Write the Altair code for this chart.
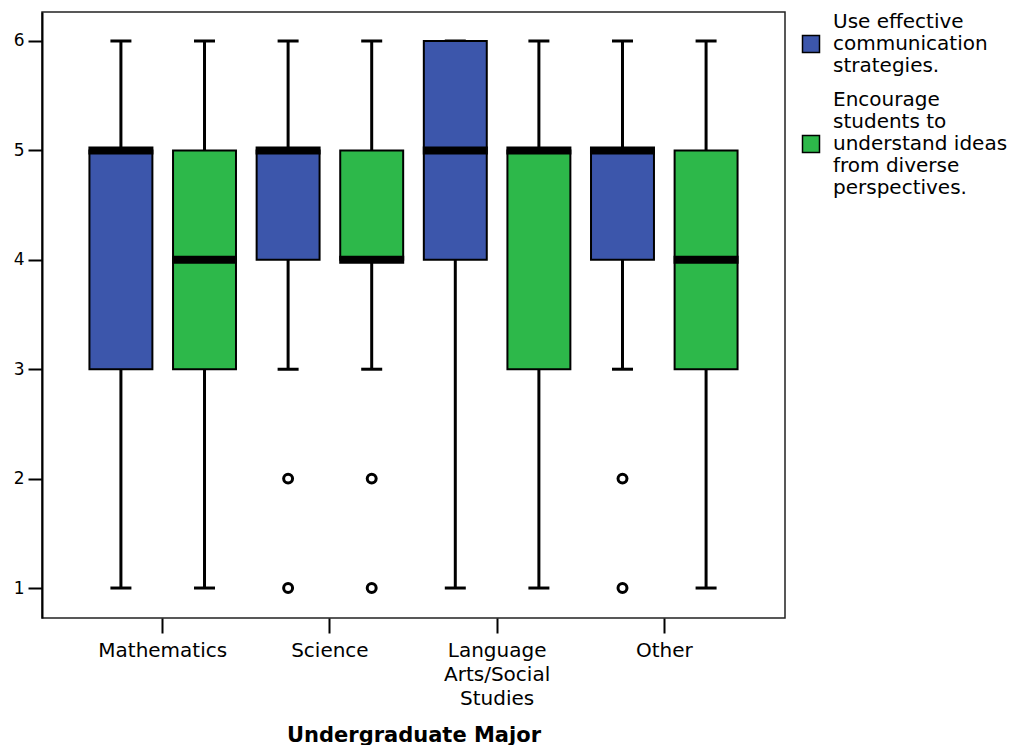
import altair as alt
import pandas as pd

categories = ["Mathematics", "Science", "Language Arts/Social Studies", "Other"]
category_lines = {"Language Arts/Social Studies": ["Language", "Arts/Social", "Studies"]}
series_names = [
    "Use effective communication strategies.",
    "Encourage students to understand ideas from diverse perspectives.",
]
series_lines = [
    ["Use effective", "communication", "strategies."],
    ["Encourage", "students to", "understand ideas", "from diverse", "perspectives."],
]
colors = ["#3c56ab", "#2db84a"]
outline_colors = ["black", "black"]

box_category = [c for c in categories for _ in range(2)]
box_series = series_names * 4
lower_whisker = [1, 1, 3, 3, 1, 1, 3, 1]
q1 = [3, 3, 4, 4, 4, 3, 4, 3]
median = [5, 4, 5, 4, 5, 5, 5, 4]
q3 = [5, 5, 5, 5, 6, 5, 5, 5]
upper_whisker = [6, 6, 6, 6, 6, 6, 6, 6]

outlier_category = ["Science", "Science", "Science", "Science", "Other", "Other"]
outlier_series = [series_names[0], series_names[0], series_names[1], series_names[1],
                  series_names[0], series_names[0]]
outlier_value = [2, 1, 2, 1, 2, 1]

boxes = pd.DataFrame({
    "category": box_category, "series": box_series,
    "lo": lower_whisker, "q1": q1, "med": median, "q3": q3, "hi": upper_whisker,
})
outliers = pd.DataFrame({"category": outlier_category, "series": outlier_series,
                         "value": outlier_value})

LEGEND_FS = 20
LEGEND_LH = LEGEND_FS + 2
SYM = 17


def arr(lines):
    return "[" + ",".join("'" + l + "'" for l in lines) + "]"


legend_expr = ("datum.label == '" + series_names[0] + "' ? " + arr(series_lines[0])
               + " : " + arr(series_lines[1]))
x_expr = "datum.label"
for k, v in category_lines.items():
    x_expr = "datum.label == '" + k + "' ? " + arr(v) + " : " + x_expr


def square_path(n_lines):
    # square symbol shifted down so it sits at the middle of a multi-line label
    d = (n_lines - 1) * LEGEND_LH / 2 / (SYM / 2)
    return "M-1,{a:.3f} H1 V{b:.3f} H-1 Z".format(a=d - 1, b=d + 1)


shape_range = [square_path(len(l)) for l in series_lines]

legend = alt.Legend(title=None, labelExpr=legend_expr, orient="right", offset=16,
                    symbolSize=SYM * SYM, symbolStrokeWidth=1.5, symbolOpacity=1,
                    labelFontSize=LEGEND_FS, labelOffset=12, rowPadding=14,
                    labelLimit=400, padding=0)

x_enc = alt.X("category:N", sort=categories,
              scale=alt.Scale(paddingInner=0, paddingOuter=0.222),
              axis=alt.Axis(title="Undergraduate Major", labelAngle=0, labelExpr=x_expr,
                            labelLineHeight=24, tickSize=15, tickWidth=2, tickColor="black",
                            domain=False, labelPadding=7, titlePadding=16,
                            labelFontSize=20, titleFontSize=21, titleFontWeight="bold"))
xo_enc = alt.XOffset("series:N", sort=series_names,
                     scale=alt.Scale(paddingInner=0.247, paddingOuter=0.1235))
y_scale = alt.Scale(domain=[0.726, 6.265], nice=False, zero=False)
y_axis = alt.Axis(title=None, values=[1, 2, 3, 4, 5, 6], format="d", grid=False,
                  tickSize=14, tickWidth=2, tickColor="black", domainColor="black",
                  domainWidth=2, labelFontSize=17, labelPadding=4)

base = alt.Chart(boxes)

whisker = base.mark_rule(color="black", strokeWidth=3).encode(
    x=x_enc, xOffset=xo_enc,
    y=alt.Y("lo:Q", scale=y_scale, axis=y_axis), y2="hi:Q")

cap_lo = base.mark_tick(color="black", thickness=3, size=21, opacity=1).encode(
    x=x_enc, xOffset=xo_enc, y=alt.Y("lo:Q", scale=y_scale))
cap_hi = base.mark_tick(color="black", thickness=3, size=21, opacity=1).encode(
    x=x_enc, xOffset=xo_enc, y=alt.Y("hi:Q", scale=y_scale))

fill_enc = alt.Fill("series:N", sort=series_names,
                    scale=alt.Scale(domain=series_names, range=colors), legend=legend)

box = base.mark_bar(stroke="black", strokeWidth=2, opacity=1).encode(
    x=x_enc, xOffset=xo_enc,
    y=alt.Y("q1:Q", scale=y_scale), y2="q3:Q",
    fill=fill_enc)

med = base.mark_tick(color="black", thickness=8, size=65, opacity=1).encode(
    x=x_enc, xOffset=xo_enc, y=alt.Y("med:Q", scale=y_scale))

pts = alt.Chart(outliers).mark_point(shape="circle", filled=False, stroke="black",
                                     strokeWidth=3, size=80, opacity=1).encode(
    x=x_enc, xOffset=xo_enc, y=alt.Y("value:Q", scale=y_scale))

# empty layer that only carries the legend symbol shapes and outlines
legend_layer = base.transform_filter("false").mark_point(
    filled=True, opacity=1, strokeWidth=1.5).encode(
    x=x_enc, xOffset=xo_enc, y=alt.Y("med:Q", scale=y_scale),
    fill=fill_enc,
    stroke=alt.Stroke("series:N", sort=series_names,
                      scale=alt.Scale(domain=series_names, range=outline_colors),
                      legend=legend),
    shape=alt.Shape("series:N", sort=series_names,
                    scale=alt.Scale(domain=series_names, range=shape_range),
                    legend=legend))

chart = alt.layer(whisker, cap_lo, cap_hi, box, med, pts, legend_layer).properties(
    width=743, height=606,
    padding={"left": 5, "top": 4, "right": 0, "bottom": 0},
).configure_view(stroke="#222", strokeWidth=1.5).configure_axis(
    labelFont="DejaVu Sans", titleFont="DejaVu Sans", labelColor="black",
    titleColor="black").configure_legend(labelFont="DejaVu Sans", labelColor="black")

chart.save("out.html", embed_options={"renderer": "svg", "actions": False})
